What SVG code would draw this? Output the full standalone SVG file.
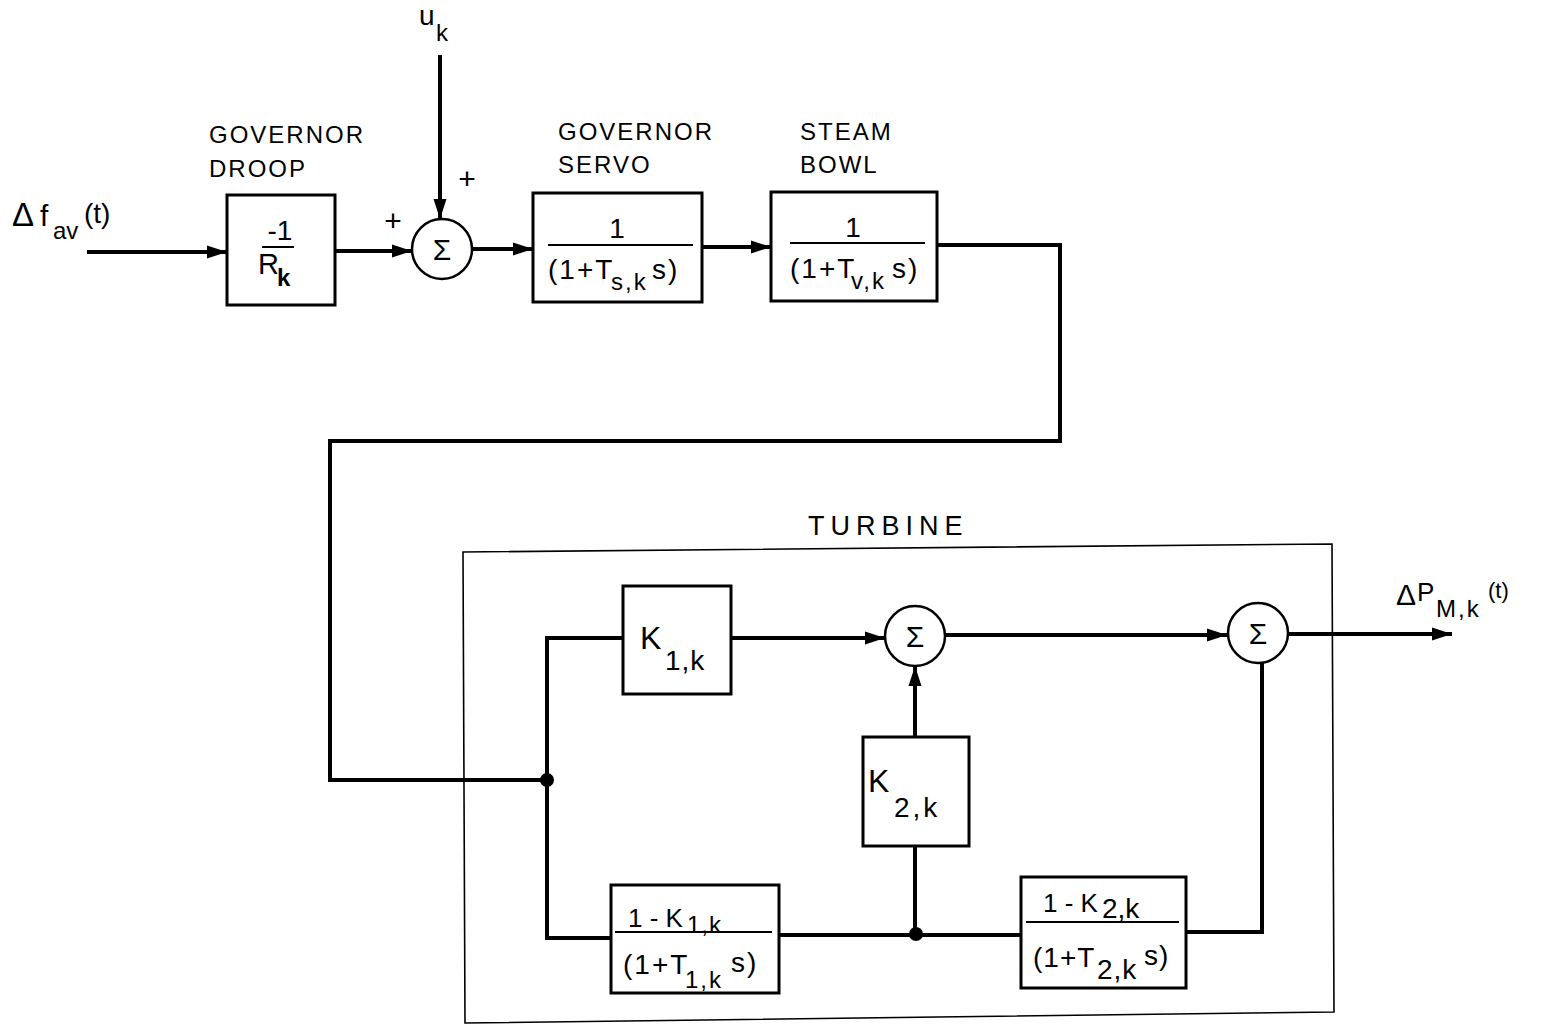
<svg xmlns="http://www.w3.org/2000/svg" width="1564" height="1029" viewBox="0 0 1564 1029">
<style>
  text { font-family: "Liberation Sans", Arial, sans-serif; fill: #000; }
  .lbl { font-size: 24px; letter-spacing: 2px; }
  .big { font-size: 32px; }
  .num { font-size: 28px; }
  .sub { font-size: 24px; }
  .sig { font-size: 30px; text-anchor: middle; }
  .box { fill: #fff; stroke: #000; stroke-width: 3; }
  .sum { fill: #fff; stroke: #000; stroke-width: 2.5; }
  .frac { stroke: #000; stroke-width: 2; }
  .wire { fill: none; stroke: #000; stroke-width: 4; stroke-linejoin: miter; }
  .arr { marker-end: url(#ah); }
</style>
<defs>
  <marker id="ah" markerUnits="userSpaceOnUse" markerWidth="22" markerHeight="16" refX="20" refY="8" orient="auto">
    <path d="M0,1.5 L20,8 L0,14.5 Z" fill="#000"/>
  </marker>
</defs>
<rect width="1564" height="1029" fill="#fff"/>

<g id="turbine">
  <path d="M463,552 L1332,544 L1334,1012 L465,1023 Z" fill="none" stroke="#000" stroke-width="1.6"/>
  <text x="808" y="535" style="font-size:27px; letter-spacing:6px">TURBINE</text>
</g>

<g id="connectors">
  <path class="wire arr" d="M87,252 H227"/>
  <path class="wire arr" d="M335,251 H412"/>
  <path class="wire arr" d="M440,55 V219"/>
  <path class="wire arr" d="M472,249 H533"/>
  <path class="wire arr" d="M702,247 H771"/>
  <path class="wire" d="M937,245 H1060 V441 H330 V780 H547"/>
  <path class="wire" d="M623,638 H547 V938 H611"/>
  <path class="wire arr" d="M731,638 H885"/>
  <path class="wire arr" d="M945,635 H1227"/>
  <path class="wire arr" d="M1289,634 H1452"/>
  <path class="wire arr" d="M915,737 V666"/>
  <path class="wire" d="M915,846 V934"/>
  <path class="wire" d="M779,935 H1021"/>
  <path class="wire" d="M1186,932 H1262 V662"/>
  <circle cx="547" cy="780" r="7" fill="#000"/>
  <circle cx="916" cy="934" r="7" fill="#000"/>
</g>

<g id="input-label">
  <text x="12" y="226" style="font-size:33px">Δ<tspan x="40" style="font-size:30px">f</tspan><tspan x="53" y="239" class="sub">av</tspan><tspan x="84" y="223" class="num">(t)</tspan></text>
</g>

<g id="uk-label">
  <text x="419" y="25" class="num">u<tspan x="436" y="41" class="sub">k</tspan></text>
  <text x="467" y="189" style="font-size:30px" text-anchor="middle">+</text>
  <text x="393" y="231" style="font-size:30px" text-anchor="middle">+</text>
</g>

<g id="droop">
  <text x="209" y="143" class="lbl">GOVERNOR</text>
  <text x="209" y="177" class="lbl">DROOP</text>
  <rect class="box" x="227" y="195" width="108" height="110"/>
  <text x="280" y="240" class="num" text-anchor="middle">-1</text>
  <line class="frac" x1="262" y1="247" x2="294" y2="247"/>
  <text x="258" y="274" style="font-size:29px">R<tspan x="277" y="286" class="sub" style="font-weight:bold">k</tspan></text>
</g>

<g id="sum1">
  <circle class="sum" cx="442" cy="249" r="30"/>
  <text x="442" y="260" class="sig">Σ</text>
</g>

<g id="servo">
  <text x="558" y="140" class="lbl">GOVERNOR</text>
  <text x="558" y="173" class="lbl">SERVO</text>
  <rect class="box" x="533" y="193" width="169" height="109"/>
  <text x="617" y="238" class="num" text-anchor="middle">1</text>
  <line class="frac" x1="548" y1="245" x2="693" y2="245"/>
  <text x="548" y="279" class="num" style="letter-spacing:2px">(1+T<tspan x="611" y="290" class="sub">s,k</tspan><tspan x="652" y="279">s)</tspan></text>
</g>

<g id="steam">
  <text x="800" y="140" class="lbl">STEAM</text>
  <text x="800" y="173" class="lbl">BOWL</text>
  <rect class="box" x="771" y="192" width="166" height="109"/>
  <text x="853" y="237" class="num" text-anchor="middle">1</text>
  <line class="frac" x1="790" y1="243" x2="925" y2="243"/>
  <text x="790" y="278" class="num" style="letter-spacing:2px">(1+T<tspan x="851" y="289" class="sub">v,k</tspan><tspan x="892" y="278">s)</tspan></text>
</g>

<g id="k1">
  <rect class="box" x="623" y="586" width="108" height="108"/>
  <text x="640" y="649" class="big">K<tspan x="665" y="670" class="num" style="letter-spacing:1px">1,k</tspan></text>
</g>

<g id="sum2">
  <circle class="sum" cx="915" cy="636" r="30"/>
  <text x="915" y="647" class="sig">Σ</text>
</g>

<g id="sum3">
  <circle class="sum" cx="1258" cy="633" r="30"/>
  <text x="1258" y="644" class="sig">Σ</text>
</g>

<g id="k2">
  <rect class="box" x="863" y="737" width="106" height="109"/>
  <text x="868" y="792" class="big">K<tspan x="894" y="817" class="num" style="letter-spacing:3px">2,k</tspan></text>
</g>

<g id="lag1">
  <rect class="box" x="611" y="885" width="168" height="108"/>
  <text x="628" y="927" style="font-size:26px">1 - K<tspan x="687" y="933" class="sub" style="letter-spacing:1px">1,k</tspan></text>
  <line class="frac" x1="615" y1="932" x2="772" y2="932"/>
  <text x="623" y="974" class="num" style="letter-spacing:2px">(1+T<tspan x="685" y="988" class="sub">1,k</tspan><tspan x="731" y="972">s)</tspan></text>
</g>

<g id="lag2">
  <rect class="box" x="1021" y="877" width="165" height="111"/>
  <text x="1043" y="912" style="font-size:26px">1 - K<tspan x="1102" y="918" class="num">2,k</tspan></text>
  <line class="frac" x1="1026" y1="922" x2="1179" y2="922"/>
  <text x="1033" y="967" class="num" style="letter-spacing:1px">(1+T<tspan x="1097" y="979">2,k</tspan><tspan x="1144" y="965">s)</tspan></text>
</g>

<g id="output-label">
  <text x="1396" y="605" style="font-size:30px">Δ<tspan x="1417" y="601" style="font-size:26px">P</tspan><tspan x="1436" y="617" class="sub" style="letter-spacing:2px">M,k</tspan><tspan x="1488" y="598" style="font-size:22px">(t)</tspan></text>
</g>
</svg>
